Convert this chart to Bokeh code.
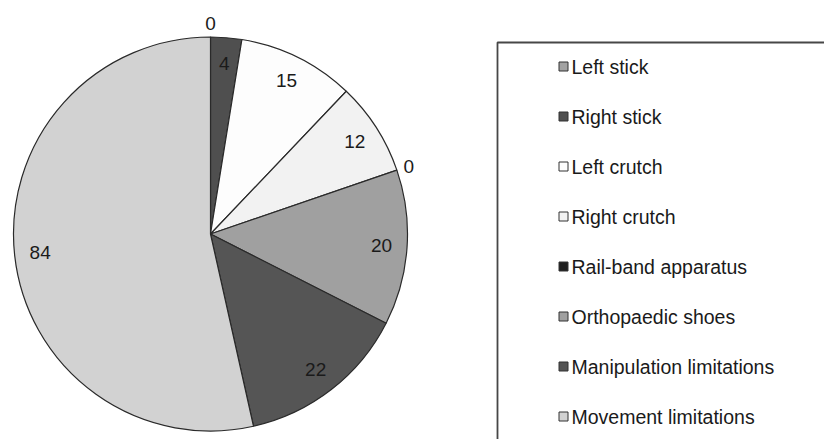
import math
from bokeh.plotting import figure
from bokeh.models import Range1d
from bokeh.core.properties import value
from bokeh.embed import file_html
from bokeh.resources import INLINE

categories = ["Left stick", "Right stick", "Left crutch", "Right crutch",
              "Rail-band apparatus", "Orthopaedic shoes",
              "Manipulation limitations", "Movement limitations"]
counts = [0, 4, 15, 12, 0, 20, 22, 84]
colors = ["#a2a2a2", "#4f4f4f", "#fdfdfd", "#f2f2f2",
          "#1e1e1e", "#a0a0a0", "#555555", "#d2d2d2"]

W, H = 824, 439
p = figure(width=W, height=H, output_backend="svg", toolbar_location=None,
           x_range=Range1d(0, W), y_range=Range1d(0, H), min_border=0)
p.axis.visible = False
p.grid.visible = False
p.outline_line_color = None
p.background_fill_color = "white"

def py(page_y):
    return H - page_y

cx, cy, R = 210, py(233.5), 197
total = sum(counts)
FONT = "Liberation Sans"

cum = 0
lx, ly, lt = [], [], []
for cat, v, c in zip(categories, counts, colors):
    a0 = math.pi / 2 - 2 * math.pi * cum / total
    a1 = math.pi / 2 - 2 * math.pi * (cum + v) / total
    if v > 0:
        p.wedge(x=cx, y=cy, radius=R, start_angle=a0, end_angle=a1,
                direction="clock", fill_color=c, line_color="#2a2a2a",
                line_width=1.2)
    mid = (a0 + a1) / 2
    if v > 0:
        r = 0.87 * R
    else:
        r = R + 5 + abs(math.cos(mid)) * 5 + abs(math.sin(mid)) * 9
    lx.append(cx + r * math.cos(mid))
    ly.append(cy + r * math.sin(mid))
    lt.append(str(v))
    cum += v

p.text(x=lx, y=ly, text=lt, text_align="center", text_baseline="middle",
       text_font=value(FONT), text_font_size="19px", text_color="#1a1a1a")

# legend box
bx0, by0 = 497, py(42)
p.quad(left=bx0, right=W + 20, top=by0, bottom=-20, fill_color="white",
       line_color="#474747", line_width=1.8)

mx = 563
for i, (cat, c) in enumerate(zip(categories, colors)):
    yy = py(66 + 50 * i)
    p.scatter(x=[mx], y=[yy], marker="square", size=9, fill_color=c,
              line_color="#333333", line_width=1)
    p.text(x=[mx + 8], y=[yy], text=[cat], text_align="left",
           text_baseline="middle", text_font=value(FONT),
           text_font_size="19.5px", text_color="#1a1a1a")

open("out.html", "w").write(file_html(p, INLINE))
